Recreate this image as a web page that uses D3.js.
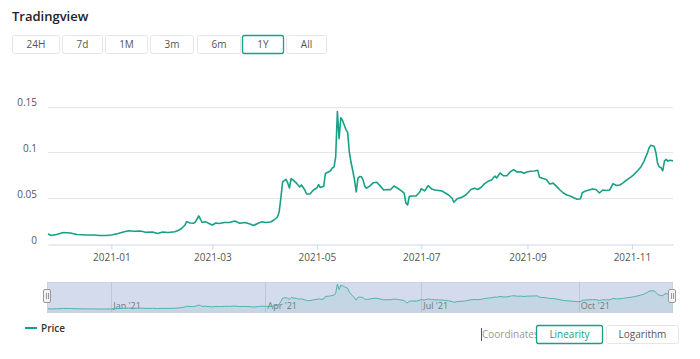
<!DOCTYPE html>
<html><head><meta charset="utf-8">
<script src="https://cdn.jsdelivr.net/npm/d3@7/dist/d3.min.js"></script>
<style>
body{margin:0;background:#fff;}
svg{display:block;font-family:"Open Sans","Noto Sans",sans-serif;}
</style></head>
<body>
<svg id="c" width="700" height="359"></svg>
<script>
const ranges = ["24H","7d","1M","3m","6m","1Y","All"];
const activeRange = "1Y";
const yTicks = [0, 0.05, 0.1, 0.15];
const dates = [
"2020-11-25","2020-11-27","2020-11-30","2020-12-04","2020-12-08","2020-12-12","2020-12-17","2020-12-22","2020-12-25","2020-12-29",
"2021-01-01","2021-01-05","2021-01-08","2021-01-11","2021-01-14","2021-01-18","2021-01-21","2021-01-25","2021-01-28","2021-01-31",
"2021-02-03","2021-02-07","2021-02-09","2021-02-11","2021-02-13","2021-02-14","2021-02-16","2021-02-18","2021-02-19","2021-02-21",
"2021-02-22","2021-02-23","2021-02-25","2021-02-27","2021-03-01","2021-03-03","2021-03-05","2021-03-08","2021-03-11","2021-03-14",
"2021-03-17","2021-03-20","2021-03-23","2021-03-25","2021-03-28","2021-03-30","2021-04-01","2021-04-04","2021-04-06","2021-04-08",
"2021-04-09","2021-04-10","2021-04-11","2021-04-13","2021-04-14","2021-04-15","2021-04-16","2021-04-17","2021-04-19","2021-04-21",
"2021-04-22","2021-04-24","2021-04-25","2021-04-27","2021-04-29","2021-05-01","2021-05-02","2021-05-03","2021-05-05","2021-05-06",
"2021-05-08","2021-05-09","2021-05-10","2021-05-11","2021-05-12","2021-05-13","2021-05-14","2021-05-15","2021-05-16","2021-05-17",
"2021-05-18","2021-05-19","2021-05-20","2021-05-21","2021-05-22","2021-05-23","2021-05-24","2021-05-25","2021-05-26","2021-05-27",
"2021-05-28","2021-05-29","2021-05-30","2021-06-01","2021-06-03","2021-06-05","2021-06-07","2021-06-09","2021-06-11","2021-06-13",
"2021-06-15","2021-06-17","2021-06-19","2021-06-21","2021-06-22","2021-06-23","2021-06-24","2021-06-26","2021-06-28","2021-06-30",
"2021-07-01","2021-07-03","2021-07-05","2021-07-07","2021-07-09","2021-07-11","2021-07-13","2021-07-15","2021-07-17","2021-07-19",
"2021-07-20","2021-07-22","2021-07-25","2021-07-27","2021-07-30","2021-08-01","2021-08-03","2021-08-05","2021-08-07","2021-08-09",
"2021-08-11","2021-08-13","2021-08-14","2021-08-16","2021-08-18","2021-08-20","2021-08-22","2021-08-24","2021-08-26","2021-08-28",
"2021-08-30","2021-09-01","2021-09-03","2021-09-05","2021-09-07","2021-09-08","2021-09-10","2021-09-12","2021-09-14","2021-09-16",
"2021-09-18","2021-09-20","2021-09-22","2021-09-24","2021-09-26","2021-09-28","2021-09-30","2021-10-02","2021-10-03","2021-10-05",
"2021-10-07","2021-10-09","2021-10-11","2021-10-13","2021-10-15","2021-10-17","2021-10-19","2021-10-21","2021-10-23","2021-10-25",
"2021-10-27","2021-10-29","2021-10-31","2021-11-02","2021-11-04","2021-11-06","2021-11-08","2021-11-09","2021-11-10","2021-11-11",
"2021-11-12","2021-11-14","2021-11-15","2021-11-16","2021-11-17","2021-11-18","2021-11-19","2021-11-20","2021-11-21","2021-11-22",
"2021-11-23","2021-11-24","2021-11-25"
];
const prices = [
0.0109,0.0093,0.0104,0.0126,0.0120,0.0104,0.0098,0.0098,0.0093,0.0093,
0.0098,0.0115,0.0131,0.0145,0.0139,0.0142,0.0128,0.0131,0.0115,0.0131,
0.0126,0.0134,0.0148,0.0169,0.0208,0.0244,0.0230,0.0226,0.0240,0.0306,
0.0273,0.0235,0.0244,0.0224,0.0208,0.0230,0.0224,0.0235,0.0235,0.0251,
0.0226,0.0235,0.0219,0.0202,0.0230,0.0244,0.0235,0.0240,0.0262,0.0295,
0.0350,0.0503,0.0678,0.0707,0.0667,0.0612,0.0714,0.0700,0.0667,0.0623,
0.0645,0.0590,0.0546,0.0546,0.0590,0.0612,0.0650,0.0617,0.0630,0.0770,
0.0790,0.0800,0.0830,0.0840,0.0950,0.1446,0.1150,0.1380,0.1350,0.1300,
0.1250,0.1220,0.1000,0.0890,0.0800,0.0700,0.0570,0.0718,0.0736,0.0735,
0.0700,0.0630,0.0610,0.0635,0.0670,0.0675,0.0635,0.0590,0.0595,0.0592,
0.0634,0.0612,0.0585,0.0555,0.0448,0.0426,0.0520,0.0525,0.0525,0.0565,
0.0604,0.0580,0.0637,0.0602,0.0590,0.0585,0.0580,0.0557,0.0535,0.0500,
0.0456,0.0495,0.0514,0.0535,0.0595,0.0610,0.0595,0.0620,0.0660,0.0685,
0.0700,0.0743,0.0720,0.0776,0.0745,0.0745,0.0790,0.0812,0.0785,0.0790,
0.0772,0.0790,0.0795,0.0798,0.0805,0.0730,0.0715,0.0705,0.0656,0.0665,
0.0630,0.0590,0.0557,0.0535,0.0525,0.0506,0.0488,0.0495,0.0560,0.0580,
0.0590,0.0600,0.0595,0.0557,0.0590,0.0585,0.0590,0.0659,0.0640,0.0645,
0.0670,0.0700,0.0725,0.0755,0.0795,0.0835,0.0900,0.0950,0.0990,0.1050,
0.1078,0.1068,0.1000,0.0880,0.0841,0.0835,0.0800,0.0905,0.0925,0.0905,
0.0915,0.0912,0.0908
];
const seriesName = "Price";
const coordLabel = "Coordinates:";
const coordModes = ["Linearity","Logarithm"];

const parse = d3.timeParse("%Y-%m-%d");
const data = dates.map((d,i)=>({date:parse(d), v:prices[i]}));
const svg = d3.select("#c");
const teal = "#17a086";
const txt = "#555";

// title
svg.append("text").attr("x",12).attr("y",21).attr("font-size",13).attr("font-weight",600)
  .attr("fill","#222").text("Tradingview");

// range buttons
const bx = [12,62,105,150,197,242,286], bw=[47,40,42,43,43,41,40];
ranges.forEach((r,i)=>{
  const g = svg.append("g");
  const act = r===activeRange;
  g.append("rect").attr("x",bx[i]+0.5).attr("y",35.5).attr("width",bw[i]).attr("height",18).attr("rx",2)
    .attr("fill","#fff").attr("stroke",act?teal:"#e3e6ea").attr("stroke-width",act?1.3:1);
  g.append("text").attr("x",bx[i]+bw[i]/2+0.5).attr("y",48).attr("text-anchor","middle")
    .attr("font-size",10).attr("fill",txt).text(r);
});

// main chart
const x = d3.scaleTime().domain(d3.extent(data,d=>d.date)).range([48,673]);
const y = d3.scaleLinear().domain([0,0.15]).range([244,106.7]);

svg.append("g").selectAll("line").data(yTicks.filter(t=>t>0)).join("line")
  .attr("x1",48).attr("x2",673).attr("y1",d=>Math.round(y(d))+0.5).attr("y2",d=>Math.round(y(d))+0.5)
  .attr("stroke","#e6e6e6");

const yAxis = svg.append("g").attr("transform","translate(48,-4)")
  .call(d3.axisLeft(y).tickValues(yTicks).tickFormat(d=>String(d)).tickSize(0).tickPadding(11));
yAxis.select(".domain").remove();
yAxis.selectAll("text").attr("font-size",10).attr("fill",txt).attr("font-family","Open Sans, sans-serif");

const xAxis = svg.append("g").attr("transform","translate(0,244.5)")
  .call(d3.axisBottom(x).ticks(d3.timeMonth.every(2)).tickFormat(d3.timeFormat("%Y-%m")).tickSize(5).tickSizeOuter(0).tickPadding(4));
xAxis.select(".domain").attr("stroke","#ccd6eb");
xAxis.selectAll(".tick line").attr("stroke","#ccd6eb");
xAxis.selectAll("text").attr("font-size",10).attr("fill",txt).attr("font-family","Open Sans, sans-serif");

svg.append("path").datum(data).attr("fill","none").attr("stroke",teal).attr("stroke-width",1.6)
  .attr("stroke-linejoin","round")
  .attr("d",d3.line().x(d=>x(d.date)).y(d=>y(d.v)));

// navigator
const nTop=282, nBot=312;
const ny = d3.scaleLinear().domain(d3.extent(data,d=>d.v)).range([309,284]);
svg.append("rect").attr("x",47.5).attr("y",nTop+0.5).attr("width",625).attr("height",nBot-nTop)
  .attr("fill","#d3dbec").attr("stroke","#ccd3e0");
const nticks = x.ticks(d3.timeMonth.every(3));
svg.append("g").selectAll("line").data(nticks).join("line")
  .attr("x1",d=>Math.round(x(d))+0.5).attr("x2",d=>Math.round(x(d))+0.5).attr("y1",nTop).attr("y2",nBot)
  .attr("stroke","#bfc7d8");
svg.append("g").selectAll("text").data(nticks).join("text")
  .attr("x",d=>x(d)+2).attr("y",nBot-3).attr("font-size",9).attr("fill","#777")
  .text(d3.timeFormat("%b '%y"));
svg.append("path").datum(data).attr("fill","rgba(23,160,134,0.08)")
  .attr("d",d3.area().x(d=>x(d.date)).y0(nBot).y1(d=>ny(d.v)));
svg.append("path").datum(data).attr("fill","none").attr("stroke","#4fb3ae").attr("stroke-width",1)
  .attr("d",d3.line().x(d=>x(d.date)).y(d=>ny(d.v)));
[47,672].forEach(hx=>{
  const g=svg.append("g");
  g.append("rect").attr("x",hx-3.5).attr("y",289.5).attr("width",7).attr("height",13).attr("rx",1.5)
    .attr("fill","#f2f2f2").attr("stroke","#999");
  [-1,1].forEach(o=>g.append("line").attr("x1",hx+o+0.5).attr("x2",hx+o+0.5).attr("y1",293).attr("y2",299).attr("stroke","#999"));
});

// legend
svg.append("line").attr("x1",25).attr("x2",37).attr("y1",328).attr("y2",328).attr("stroke",teal).attr("stroke-width",2);
svg.append("text").attr("x",41).attr("y",331.5).attr("font-size",10).attr("font-weight",600).attr("fill","#333").text(seriesName);

// coordinates buttons
svg.append("line").attr("x1",481.5).attr("x2",481.5).attr("y1",328).attr("y2",341).attr("stroke","#555");
svg.append("text").attr("x",482).attr("y",338).attr("font-size",10).attr("fill","#999").text(coordLabel);
const cb=[[536,66],[606,72]];
coordModes.forEach((m,i)=>{
  const act=i===0;
  svg.append("rect").attr("x",cb[i][0]+0.5).attr("y",325.5).attr("width",cb[i][1]).attr("height",18).attr("rx",2)
    .attr("fill","#fff").attr("stroke",act?teal:"#e3e6ea").attr("stroke-width",act?1.3:1);
  svg.append("text").attr("x",cb[i][0]+cb[i][1]/2+0.5).attr("y",338).attr("text-anchor","middle")
    .attr("font-size",10).attr("fill",act?teal:txt).text(m);
});
</script>
</body></html>
